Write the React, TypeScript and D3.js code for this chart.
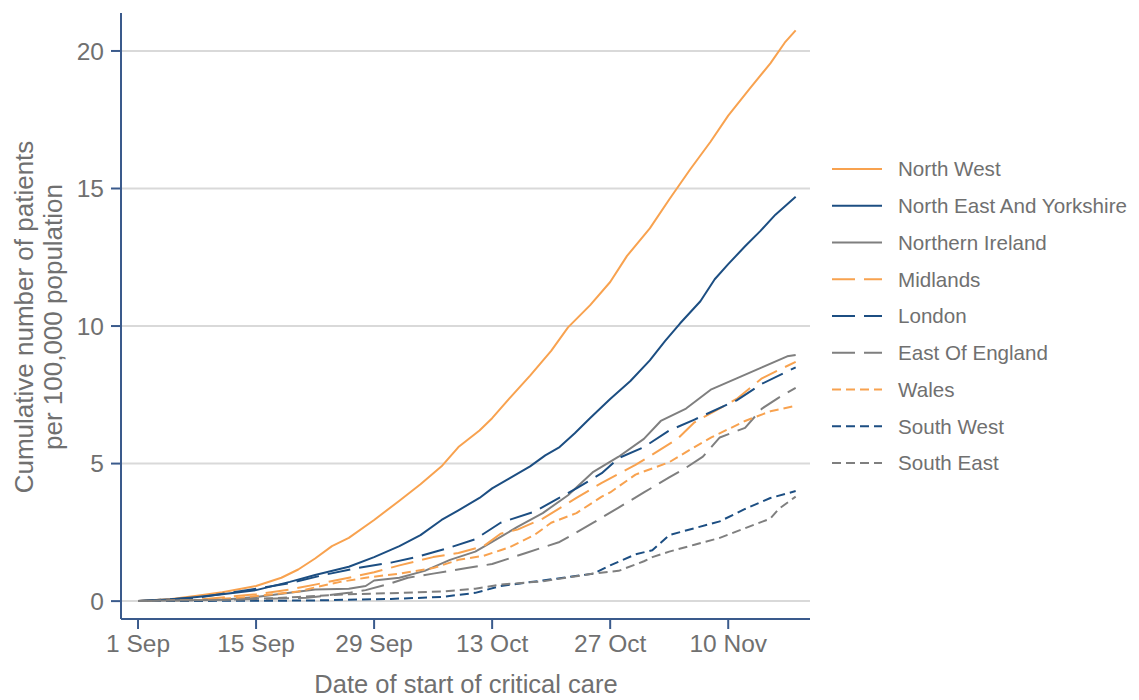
import React from "react";
import * as d3 from "d3";

const START = Date.UTC(2020, 8, 1);
const DAY = 86400000;

// [days since 1 Sep, cumulative patients per 100,000]
const northWest: [number, number][] = [
  [0, 0], [4, 0.08], [7, 0.2], [10, 0.32], [14, 0.55], [17, 0.85], [19, 1.15], [21, 1.55], [23, 2.0], [25, 2.3],
  [28, 2.95], [31, 3.65], [33.5, 4.25], [36, 4.9], [38, 5.6], [40.5, 6.2], [42, 6.65], [44, 7.35], [46.5, 8.2],
  [49, 9.1], [51, 9.95], [53.6, 10.75], [56, 11.6], [58, 12.55], [60.7, 13.55], [63, 14.6], [65.5, 15.7],
  [67.9, 16.7], [70, 17.65], [72.6, 18.65], [75, 19.55], [76.7, 20.3], [78, 20.75],
];
const northEastYorkshire: [number, number][] = [
  [0, 0], [4, 0.07], [7, 0.15], [10, 0.25], [14, 0.4], [18, 0.7], [21, 0.95], [25, 1.25], [28, 1.6], [31, 2.0],
  [33.5, 2.4], [36, 2.95], [38, 3.3], [40.5, 3.75], [42, 4.1], [44, 4.45], [46.5, 4.9], [48.3, 5.3], [50, 5.6],
  [51.8, 6.1], [53.6, 6.65], [56, 7.35], [58.4, 8.0], [60.7, 8.75], [62.5, 9.45], [64.3, 10.1], [66.7, 10.9],
  [68.4, 11.7], [70, 12.25], [72, 12.9], [73.8, 13.45], [75.6, 14.05], [78, 14.7],
];
const northernIreland: [number, number][] = [
  [0, 0], [10, 0.05], [14, 0.15], [18, 0.3], [21, 0.42], [25, 0.45], [27, 0.55], [28, 0.75], [31, 0.85], [34, 1.1],
  [37, 1.5], [40, 1.8], [42, 2.15], [45, 2.7], [48, 3.2], [51, 3.85], [54, 4.7], [57, 5.25], [60, 5.9], [62, 6.55],
  [65, 7.0], [68, 7.7], [71, 8.1], [74, 8.5], [77, 8.9], [78, 8.95],
];
const midlands: [number, number][] = [
  [0, 0], [7, 0.05], [14, 0.25], [18, 0.42], [21, 0.6], [25, 0.85], [28, 1.05], [31, 1.3], [35, 1.6], [38, 1.75],
  [41, 2.0], [43, 2.45], [45, 2.6], [48, 3.0], [52, 3.75], [55, 4.3], [59, 4.95], [64, 5.9], [66, 6.5], [71, 7.35],
  [74, 8.1], [78, 8.7],
];
const london: [number, number][] = [
  [0, 0], [7, 0.12], [14, 0.45], [18, 0.65], [22, 0.95], [26, 1.2], [30, 1.4], [33, 1.6], [37, 1.95], [40, 2.25],
  [42, 2.65], [43, 2.85], [47, 3.25], [52, 4.1], [55, 4.65], [57, 5.2], [60, 5.6], [63, 6.2], [66, 6.6], [71, 7.3],
  [74, 7.9], [78, 8.5],
];
const eastOfEngland: [number, number][] = [
  [0, 0], [10, 0.05], [20, 0.12], [25, 0.3], [27, 0.4], [30, 0.65], [32, 0.85], [35, 1.0], [39, 1.2], [42, 1.35],
  [46, 1.75], [50, 2.15], [54, 2.85], [57, 3.4], [60, 3.95], [63, 4.5], [65, 4.85], [67, 5.25], [69, 5.95], [72, 6.3],
  [74, 7.0], [76, 7.4], [78, 7.75],
];
const wales: [number, number][] = [
  [0, 0], [7, 0.03], [12, 0.12], [16, 0.25], [19, 0.35], [21, 0.5], [24, 0.7], [27, 0.85], [31, 1.0], [35, 1.2],
  [38, 1.5], [41, 1.65], [43, 1.85], [44, 1.95], [47, 2.4], [49, 2.85], [52, 3.2], [55, 3.8], [56, 3.95], [59, 4.6],
  [63, 5.05], [66, 5.6], [68, 5.95], [72, 6.55], [75, 6.9], [78, 7.1],
];
const southWest: [number, number][] = [
  [0, 0], [20, 0.02], [30, 0.08], [36, 0.15], [40, 0.3], [43, 0.55], [48, 0.75], [54, 1.0], [56, 1.3], [59, 1.7],
  [61, 1.85], [63, 2.4], [66, 2.65], [69, 2.9], [72, 3.35], [75, 3.75], [78, 4.0],
];
const southEast: [number, number][] = [
  [0, 0], [12, 0.05], [19, 0.15], [25, 0.25], [31, 0.3], [36, 0.35], [40, 0.45], [43, 0.6], [48, 0.72], [54, 1.0],
  [57, 1.1], [60, 1.45], [61, 1.6], [63, 1.8], [66, 2.05], [69, 2.3], [72, 2.65], [75, 3.0], [76, 3.35], [78, 3.8],
];

const seriesNames = [
  "North West", "North East And Yorkshire", "Northern Ireland", "Midlands", "London",
  "East Of England", "Wales", "South West", "South East",
];
const seriesData = [northWest, northEastYorkshire, northernIreland, midlands, london, eastOfEngland, wales, southWest, southEast];

const xTickDays = [0, 14, 28, 42, 56, 70];
const yTicks = [0, 5, 10, 15, 20];

const ORANGE = "#F8A24F";
const BLUE = "#1C4E82";
const GRAY = "#7F7F7F";
const colors = [ORANGE, BLUE, GRAY, ORANGE, BLUE, GRAY, ORANGE, BLUE, GRAY];
const LONG = "23,9";
const SHORT = "9,5";
const dashes = ["", "", "", LONG, LONG, LONG, SHORT, SHORT, SHORT];

const AXIS = "#3A5A8C";
const TEXT = "#707070";
const GRID = "#D9D9D9";

export default function App() {
  const width = 1139;
  const height = 700;
  const x = d3
    .scaleUtc()
    .domain([new Date(START - 2.02 * DAY), new Date(START + 79.7 * DAY)])
    .range([121, 810]);
  const y = d3.scaleLinear().domain([-0.65, 21.38]).range([619, 13]);
  const fmt = d3.utcFormat("%-d %b");
  const line = d3
    .line<[number, number]>()
    .x((d) => x(new Date(START + d[0] * DAY)))
    .y((d) => y(d[1]))
    .curve(d3.curveLinear);

  const font = "'Liberation Sans', Arial, sans-serif";

  return (
    <svg
      width={width}
      height={height}
      style={{ position: "absolute", left: 0, top: 0, fontFamily: font }}
    >
      <rect width={width} height={height} fill="#fff" />
      {yTicks.map((t) => (
        <line key={"g" + t} x1={121} x2={810} y1={y(t)} y2={y(t)} stroke={GRID} strokeWidth={2} />
      ))}
      {seriesData.map((s, i) => (
        <path
          key={seriesNames[i]}
          d={line(s) || ""}
          fill="none"
          stroke={colors[i]}
          strokeWidth={2}
          strokeDasharray={dashes[i] || undefined}
          strokeLinejoin="round"
        />
      ))}
      {/* y axis */}
      <line x1={121} x2={121} y1={13} y2={619} stroke={AXIS} strokeWidth={2} />
      {yTicks.map((t) => (
        <g key={"y" + t}>
          <line x1={111} x2={121} y1={y(t)} y2={y(t)} stroke={AXIS} strokeWidth={2} />
          <text x={104} y={y(t)} dy="0.36em" textAnchor="end" fontSize={24.5} fill={TEXT}>
            {t}
          </text>
        </g>
      ))}
      {/* x axis */}
      <line x1={121} x2={810} y1={619} y2={619} stroke={AXIS} strokeWidth={2} />
      {xTickDays.map((d) => {
        const xx = x(new Date(START + d * DAY));
        return (
          <g key={"x" + d}>
            <line x1={xx} x2={xx} y1={619} y2={629} stroke={AXIS} strokeWidth={2} />
            <text x={xx} y={652} textAnchor="middle" fontSize={24.5} fill={TEXT}>
              {fmt(new Date(START + d * DAY))}
            </text>
          </g>
        );
      })}
      <text x={466} y={693} textAnchor="middle" fontSize={25.5} fill={TEXT}>
        Date of start of critical care
      </text>
      <g transform="translate(33,317) rotate(-90)">
        <text x={0} y={0} textAnchor="middle" fontSize={26} fill={TEXT}>
          Cumulative number of patients
        </text>
        <text x={0} y={29} textAnchor="middle" fontSize={26} fill={TEXT}>
          per 100,000 population
        </text>
      </g>
      {/* legend */}
      {seriesNames.map((n, i) => {
        const ly = 169 + i * 36.75;
        return (
          <g key={"l" + n}>
            <line
              x1={832}
              x2={882}
              y1={ly}
              y2={ly}
              stroke={colors[i]}
              strokeWidth={2}
              strokeDasharray={dashes[i] || undefined}
            />
            <text x={898} y={ly} dy="0.36em" fontSize={20.6} fill={TEXT}>
              {n}
            </text>
          </g>
        );
      })}
    </svg>
  );
}
